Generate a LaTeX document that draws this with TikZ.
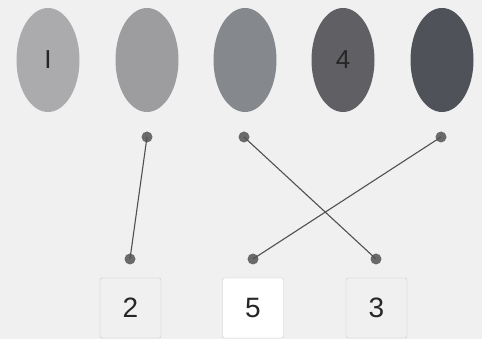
\documentclass[tikz,border=0pt]{standalone}
\usepackage{fontspec}
\setmainfont{Liberation Sans}
\usetikzlibrary{shapes.geometric}
\definecolor{bg}{HTML}{F0F0F0}
\definecolor{ea}{HTML}{ABABAD}
\definecolor{eb}{HTML}{9D9D9F}
\definecolor{ec}{HTML}{85888C}
\definecolor{ed}{HTML}{606064}
\definecolor{ee}{HTML}{4F5258}
\definecolor{dotc}{HTML}{6A6A6A}
\definecolor{linec}{HTML}{505050}
\definecolor{boxline}{HTML}{C8C8C8}
\begin{document}
\begin{tikzpicture}[x=1pt,y=-1pt,
  oval/.style={ellipse,minimum width=63pt,minimum height=104pt,inner sep=0pt,draw=none,font=\fontsize{26}{26}\selectfont,text=black!85},
  dotn/.style={circle,fill=dotc,minimum size=11pt,inner sep=0pt},
  numbox/.style={draw=boxline,rounded corners=2pt,minimum width=61pt,minimum height=60pt,inner sep=0pt,font=\fontsize{28}{28}\selectfont,text=black!85},
  link/.style={linec,line width=1.1pt}]
\fill[bg] (0,0) rectangle (482,339);
\useasboundingbox (0,0) rectangle (482,339);
\node[oval,fill=ea] (e1) at (48,60) {I};
\node[oval,fill=eb] (e2) at (147,60) {};
\node[oval,fill=ec] (e3) at (245,60) {};
\node[oval,fill=ed] (e4) at (343,60) {4};
\node[oval,fill=ee] (e5) at (442,60) {};
\node[dotn] (t1) at (147,137) {};
\node[dotn] (t2) at (244,137) {};
\node[dotn] (t3) at (441,137) {};
\node[dotn] (b1) at (130,259) {};
\node[dotn] (b2) at (253,259) {};
\node[dotn] (b3) at (376,259) {};
\draw[link] (t1.center) -- (b1.center);
\draw[link] (t2.center) -- (b3.center);
\draw[link] (t3.center) -- (b2.center);
\node[numbox,fill=bg] (n2) at (130.5,308) {2};
\node[numbox,fill=white] (n5) at (253,308) {5};
\node[numbox,fill=bg] (n3) at (376.5,308) {3};
\end{tikzpicture}
\end{document}
